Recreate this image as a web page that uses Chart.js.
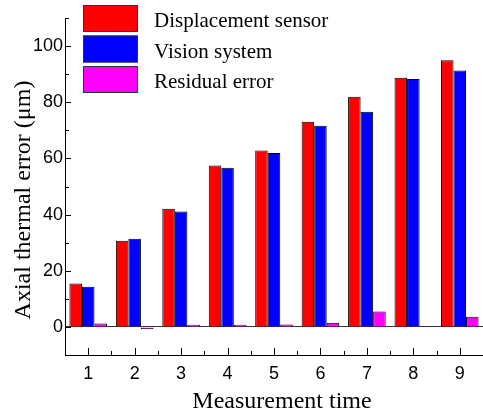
<!DOCTYPE html>
<html>
<head>
<meta charset="utf-8">
<script src="https://cdn.jsdelivr.net/npm/chart.js@4"></script>
<style>
  body { margin: 0; background: #fff; }
  canvas { display: block; }
</style>
</head>
<body>
<canvas id="myChart" width="483" height="409"></canvas>
<script>
const categories = ['1', '2', '3', '4', '5', '6', '7', '8', '9'];
const displacement = [15.5, 30.7, 42.1, 57.5, 62.8, 73.1, 82.0, 88.7, 95.0];
const vision = [14.3, 31.4, 41.1, 56.7, 61.9, 71.6, 76.6, 88.3, 91.3];
const residual = [1.2, -0.8, 0.8, 0.8, 0.9, 1.5, 5.5, 0.3, 3.6];
const yTicks = [0, 20, 40, 60, 80, 100];

const serif = "'Liberation Serif', 'Times New Roman', serif";
const sans = "'Liberation Sans', Arial, sans-serif";

// ticks point inward, plus legend and axis titles
const decor = {
  id: 'decor',
  afterDraw(chart) {
    const c = chart.ctx;
    const area = chart.chartArea;
    const xs = chart.scales.x;
    const ys = chart.scales.y;
    c.save();
    c.strokeStyle = '#000';
    c.lineWidth = 1;
    c.beginPath();
    for (let i = 0; i < categories.length; i++) {
      const px = Math.round(xs.getPixelForValue(i)) + 0.5;
      c.moveTo(px, area.bottom);
      c.lineTo(px, area.bottom - 7);
      if (i < categories.length - 1) {
        const mx = Math.round((xs.getPixelForValue(i) + xs.getPixelForValue(i + 1)) / 2) + 0.5;
        c.moveTo(mx, area.bottom);
        c.lineTo(mx, area.bottom - 4);
      }
    }
    for (let v = 0; v <= 110; v += 10) {
      const py = Math.round(ys.getPixelForValue(v)) + 0.5;
      const len = yTicks.includes(v) ? 6 : 4;
      c.moveTo(area.left, py);
      c.lineTo(area.left + len, py);
    }
    c.stroke();

    // legend
    c.font = '21px ' + serif;
    c.textBaseline = 'alphabetic';
    c.textAlign = 'left';
    chart.data.datasets.forEach((ds, i) => {
      const top = 5 + i * 30.5;
      c.fillStyle = ds.backgroundColor;
      c.fillRect(83, top, 55, 27);
      c.strokeStyle = '#333';
      c.strokeRect(83.5, top + 0.5, 54, 26);
      c.fillStyle = '#000';
      c.fillText(ds.label, 154, top + 22);
    });

    // axis titles
    c.font = '24px ' + serif;
    c.textAlign = 'center';
    c.fillText('Measurement time', 282, 408);
    c.translate(30, 200);
    c.rotate(-Math.PI / 2);
    c.fillText('Axial thermal error (\u03bcm)', 0, 0);
    c.restore();
  }
};

const ctx = document.getElementById('myChart');

const myChart = new Chart(ctx, {
  type: 'bar',
  data: {
    labels: categories,
    datasets: [{
      label: 'Displacement sensor',
      data: displacement,
      backgroundColor: '#ff0000',
      borderColor: '#000',
      borderWidth: 1,
    }, {
      label: 'Vision system',
      data: vision,
      backgroundColor: '#0000ff',
      borderColor: '#000',
      borderWidth: 1,
    }, {
      label: 'Residual error',
      data: residual,
      backgroundColor: '#ff00ff',
      borderColor: '#000',
      borderWidth: 1,
    }]
  },
  options: {
    responsive: false,
    animation: false,
    barPercentage: 1,
    categoryPercentage: 0.81,
    layout: { padding: { top: 18, right: 0, left: 0, bottom: 0 } },
    plugins: {
      legend: { display: false },
      tooltip: { enabled: false },
    },
    scales: {
      x: {
        offset: true,
        grid: { display: false },
        border: { display: true, color: '#000', width: 1 },
        ticks: { color: '#000', font: { family: sans, size: 18 }, padding: 0, maxRotation: 0 },
        afterFit(scale) { scale.height = 54; },
      },
      y: {
        min: -10,
        max: 110,
        grid: {
          drawTicks: false,
          color: (c) => (c.tick && c.tick.value === 0 ? '#333' : 'rgba(0,0,0,0)'),
        },
        border: { display: true, color: '#000', width: 1 },
        ticks: {
          stepSize: 10,
          color: '#000',
          padding: 2,
          font: { family: sans, size: 18 },
          callback: (v) => (yTicks.includes(v) ? v : ''),
        },
        afterFit(scale) { scale.width = 65; },
      }
    }
  },
  plugins: [decor]
});
</script>
</body>
</html>
